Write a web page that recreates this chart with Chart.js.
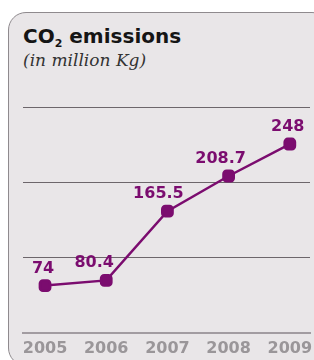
<!DOCTYPE html>
<html>
<head>
<meta charset="utf-8">
<script src="https://cdn.jsdelivr.net/npm/chart.js@4/dist/chart.umd.min.js"></script>
<style>
  html, body { margin: 0; padding: 0; background: #fff; }
  body { width: 314px; height: 360px; position: relative; overflow: hidden; }
  .card {
    position: absolute; left: 8px; top: 12px; width: 320px; height: 352px;
    background: #e9e6e8; border: 1px solid #8f8a8e; border-radius: 18px;
  }
  .title {
    position: absolute; left: 23px; top: 24px;
    font: bold 20px "DejaVu Sans", sans-serif; color: #151515;
  }
  .title sub { font-size: 11px; vertical-align: -4px; }
  .subtitle {
    position: absolute; left: 23px; top: 50px;
    font: italic 17px "DejaVu Serif", serif; color: #333;
  }
  #chart { position: absolute; left: 0; top: 0; }
</style>
</head>
<body>
<div class="card"></div>
<div class="title">CO<sub>2</sub> emissions</div>
<div class="subtitle">(in million Kg)</div>
<canvas id="chart" width="314" height="360"></canvas>
<script>
const years = [2005, 2006, 2007, 2008, 2009];
const emissions = [74, 80.4, 165.5, 208.7, 248];
const gridValues = [16, 108.5, 201, 293.5];

const purple = '#7b0c6f';

// value labels above each point (nudged left a bit like the original)
const valueLabels = {
  id: 'valueLabels',
  afterDatasetsDraw(chart) {
    const ctx = chart.ctx;
    const meta = chart.getDatasetMeta(0);
    const nudge = [-2, -12, -9, -8, -2];
    ctx.save();
    ctx.font = 'bold 16px "DejaVu Sans", sans-serif';
    ctx.fillStyle = purple;
    ctx.textAlign = 'center';
    ctx.textBaseline = 'alphabetic';
    meta.data.forEach((pt, i) => {
      ctx.fillText(String(emissions[i]), pt.x + nudge[i], pt.y - 13);
    });
    ctx.restore();
  }
};

new Chart(document.getElementById('chart'), {
  type: 'line',
  data: {
    datasets: [{
      data: years.map((y, i) => ({x: y, y: emissions[i]})),
      borderColor: purple,
      backgroundColor: purple,
      borderWidth: 2.5,
      pointStyle: 'rectRounded',
      pointRadius: 6,
      pointHoverRadius: 6,
      tension: 0
    }]
  },
  options: {
    responsive: false,
    animation: false,
    layout: { autoPadding: false, padding: { left: 23, right: 4, top: 107, bottom: -4 } },
    plugins: { legend: { display: false }, tooltip: { enabled: false } },
    scales: {
      x: {
        type: 'linear',
        min: 2004.64,
        max: 2009.33,
        afterBuildTicks: s => { s.ticks = years.map(v => ({value: v})); },
        // let the last year label run off the edge, like the original
        afterFit: s => { s.paddingLeft = 0; s.paddingRight = 0; },
        grid: { display: false, drawTicks: false },
        border: { display: true, color: '#a29ca1', width: 2 },
        ticks: {
          padding: 6,
          color: '#9a9699',
          font: { family: '"DejaVu Sans", sans-serif', weight: 'bold', size: 16 },
          callback: v => String(v),
          maxRotation: 0,
          autoSkip: false
        }
      },
      y: {
        min: gridValues[0],
        max: gridValues[gridValues.length - 1],
        afterBuildTicks: s => { s.ticks = gridValues.map(v => ({value: v})); },
        ticks: { display: false },
        border: { display: false },
        grid: {
          color: ctx => ctx.index === 0 ? 'rgba(0,0,0,0)' : '#6d666b',
          lineWidth: 1,
          drawTicks: false
        }
      }
    }
  },
  plugins: [valueLabels]
});
</script>
</body>
</html>
